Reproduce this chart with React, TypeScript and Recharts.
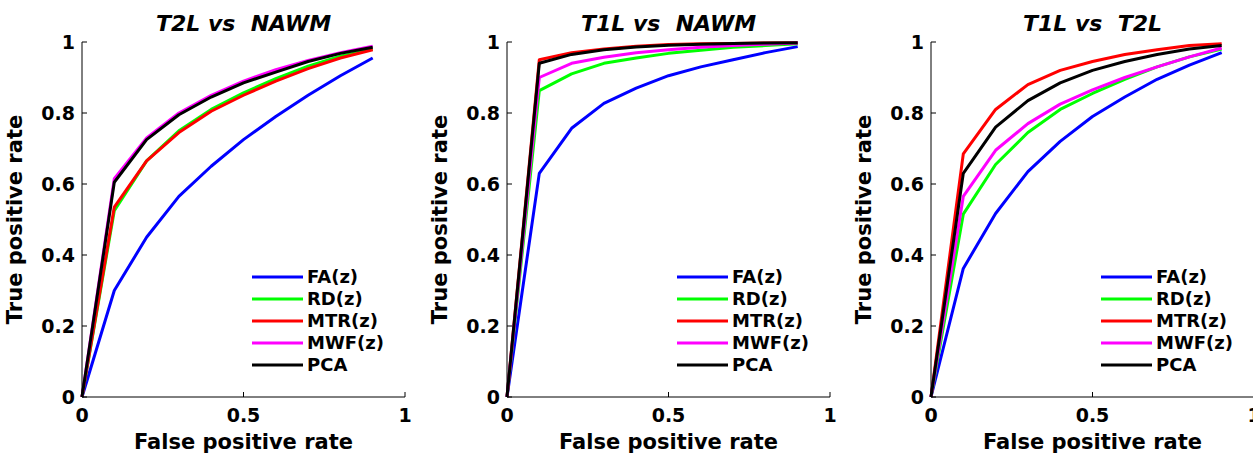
import React from "react";
import { LineChart, Line, XAxis, YAxis, Label } from "recharts";

const FPR = [0, 0.1, 0.2, 0.3, 0.4, 0.5, 0.6, 0.7, 0.8, 0.9];

const SERIES = ["FA(z)", "RD(z)", "MTR(z)", "MWF(z)", "PCA"];
const COLORS = ["#0000ff", "#00ff00", "#ff0000", "#ff00ff", "#000000"];

const X_TICKS = [0, 0.5, 1];
const Y_TICKS = [0, 0.2, 0.4, 0.6, 0.8, 1];

// T2L vs NAWM
const t2lNawmFA  = [0, 0.30, 0.45, 0.565, 0.65, 0.725, 0.79, 0.85, 0.905, 0.955];
const t2lNawmRD  = [0, 0.525, 0.665, 0.75, 0.81, 0.857, 0.897, 0.932, 0.96, 0.98];
const t2lNawmMTR = [0, 0.535, 0.665, 0.745, 0.805, 0.85, 0.89, 0.925, 0.955, 0.978];
const t2lNawmMWF = [0, 0.615, 0.73, 0.80, 0.85, 0.89, 0.922, 0.948, 0.97, 0.988];
const t2lNawmPCA = [0, 0.605, 0.725, 0.795, 0.845, 0.885, 0.915, 0.945, 0.968, 0.985];

// T1L vs NAWM
const t1lNawmFA  = [0, 0.63, 0.757, 0.827, 0.87, 0.905, 0.93, 0.95, 0.97, 0.987];
const t1lNawmRD  = [0, 0.863, 0.91, 0.94, 0.955, 0.968, 0.977, 0.985, 0.99, 0.995];
const t1lNawmMTR = [0, 0.95, 0.97, 0.98, 0.988, 0.993, 0.995, 0.996, 0.997, 0.998];
const t1lNawmMWF = [0, 0.90, 0.94, 0.957, 0.97, 0.978, 0.985, 0.99, 0.994, 0.997];
const t1lNawmPCA = [0, 0.94, 0.965, 0.978, 0.986, 0.991, 0.994, 0.996, 0.997, 0.998];

// T1L vs T2L
const t1lT2lFA  = [0, 0.362, 0.517, 0.635, 0.72, 0.79, 0.845, 0.895, 0.935, 0.97];
const t1lT2lRD  = [0, 0.515, 0.655, 0.745, 0.81, 0.855, 0.895, 0.93, 0.958, 0.98];
const t1lT2lMTR = [0, 0.685, 0.81, 0.88, 0.92, 0.945, 0.965, 0.978, 0.99, 0.995];
const t1lT2lMWF = [0, 0.565, 0.695, 0.77, 0.825, 0.865, 0.9, 0.93, 0.958, 0.983];
const t1lT2lPCA = [0, 0.63, 0.76, 0.835, 0.885, 0.92, 0.945, 0.965, 0.98, 0.99];

const FONT = "'DejaVu Sans', sans-serif";
const W = 420;
const H = 453;
const M = { top: 42, right: 15, bottom: 0, left: 0 };
const Y_W = 82;

function rows(cols: number[][]) {
  return FPR.map((x, i) => {
    const r: Record<string, number> = { fpr: x };
    SERIES.forEach((s, k) => { r[s] = cols[k][i]; });
    return r;
  });
}

const fmt = (v: number) => String(v);

const LeftTick = ({ x, y, payload }: any) => (
  <g>
    <line x1={x} x2={x + 5} y1={y} y2={y} stroke="#000" strokeWidth={1} />
    <text x={x - 7} y={y} dy="0.36em" textAnchor="end" fontFamily={FONT} fontWeight={700} fontSize={19} fill="#000">
      {fmt(payload.value)}
    </text>
  </g>
);
const RightTick = ({ x, y }: any) => (
  <line x1={x - 5} x2={x} y1={y} y2={y} stroke="#000" strokeWidth={1} />
);
const BottomTick = ({ x, y, payload }: any) => (
  <g>
    <line x1={x} x2={x} y1={y - 5} y2={y} stroke="#000" strokeWidth={1} />
    <text x={x} y={y + 25} textAnchor="middle" fontFamily={FONT} fontWeight={700} fontSize={19} fill="#000">
      {fmt(payload.value)}
    </text>
  </g>
);
const TopTick = ({ x, y }: any) => (
  <line x1={x} x2={x} y1={y} y2={y + 5} stroke="#000" strokeWidth={1} />
);

function Panel({ title, cols, left }: { title: string; cols: number[][]; left: number }) {
  const data = rows(cols);
  const plotW = W - M.right - Y_W;
  return (
    <div style={{ position: "absolute", left, top: 0, width: W, height: H }}>
      <div style={{
        position: "absolute", left: Y_W, top: 11, width: plotW, textAlign: "center",
        fontFamily: FONT, fontWeight: 700, fontStyle: "italic", fontSize: 22, lineHeight: "26px",
        whiteSpace: "pre", color: "#000",
      }}>{title}</div>
      <LineChart width={W} height={H} data={data} margin={M}>
        <XAxis xAxisId="b" type="number" dataKey="fpr" domain={[0, 1]} ticks={X_TICKS}
          orientation="bottom" height={56} tickSize={0} tickMargin={0} tick={<BottomTick />}
          axisLine={{ stroke: "#000", strokeWidth: 1 }}>
          <Label content={({ viewBox }: any) => (
            <text x={viewBox.x + viewBox.width / 2} y={viewBox.y + 52} textAnchor="middle"
              fontFamily={FONT} fontWeight={700} fontSize={21} fill="#000">False positive rate</text>
          )} />
        </XAxis>
        <XAxis xAxisId="t" type="number" dataKey="fpr" domain={[0, 1]} ticks={X_TICKS}
          orientation="top" height={0} tickSize={0} tickMargin={0} tick={<TopTick />}
          axisLine={{ stroke: "#000", strokeWidth: 1 }} />
        <YAxis yAxisId="l" type="number" domain={[0, 1]} ticks={Y_TICKS} orientation="left"
          width={Y_W} tickSize={0} tickMargin={0} tick={<LeftTick />}
          axisLine={{ stroke: "#000", strokeWidth: 1 }}>
          <Label content={({ viewBox }: any) => {
            const cx = viewBox.x + 22;
            const cy = viewBox.y + viewBox.height / 2;
            return (
              <text x={cx} y={cy} textAnchor="middle" transform={`rotate(-90 ${cx} ${cy})`}
                fontFamily={FONT} fontWeight={700} fontSize={21} fill="#000">True positive rate</text>
            );
          }} />
        </YAxis>
        <YAxis yAxisId="r" type="number" domain={[0, 1]} ticks={Y_TICKS} orientation="right"
          width={0} tickSize={0} tickMargin={0} tick={<RightTick />}
          axisLine={{ stroke: "#000", strokeWidth: 1 }} />
        {SERIES.map((s, i) => (
          <Line key={s} xAxisId="b" yAxisId="l" type="linear" dataKey={s} stroke={COLORS[i]}
            strokeWidth={3} dot={false} activeDot={false} isAnimationActive={false}
            strokeLinejoin="round" />
        ))}
      </LineChart>
      <svg width={170} height={120} style={{ position: "absolute", left: 250, top: 265 }}>
        {SERIES.map((s, i) => (
          <g key={s}>
            <line x1={2} x2={53} y1={12 + i * 22} y2={12 + i * 22} stroke={COLORS[i]} strokeWidth={3} />
            <text x={57} y={12 + i * 22} dy="0.36em" fontFamily={FONT} fontWeight={700} fontSize={18} fill="#000">
              {s}
            </text>
          </g>
        ))}
      </svg>
    </div>
  );
}

export default function App() {
  return (
    <div style={{ position: "absolute", left: 0, top: 0, width: 1253, height: 453, overflow: "hidden", background: "#fff" }}>
      <Panel title={"T2L vs  NAWM"} left={0}
        cols={[t2lNawmFA, t2lNawmRD, t2lNawmMTR, t2lNawmMWF, t2lNawmPCA]} />
      <Panel title={"T1L vs  NAWM"} left={425}
        cols={[t1lNawmFA, t1lNawmRD, t1lNawmMTR, t1lNawmMWF, t1lNawmPCA]} />
      <Panel title={"T1L vs  T2L"} left={849}
        cols={[t1lT2lFA, t1lT2lRD, t1lT2lMTR, t1lT2lMWF, t1lT2lPCA]} />
    </div>
  );
}
